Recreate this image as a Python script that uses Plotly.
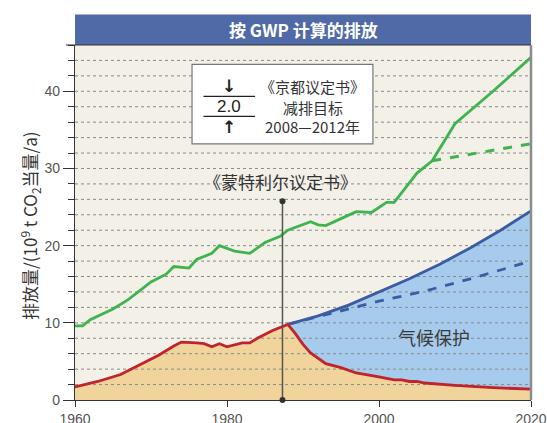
import plotly.graph_objects as go

# ---- data (10^9 t CO2-equivalent per year) ----
total_years = [1960, 1961, 1962, 1965, 1967, 1970, 1972, 1973, 1975, 1976, 1978, 1979,
               1981, 1983, 1985, 1987, 1988, 1990, 1991, 1992, 1993, 1995, 1997,
               1999, 2000, 2001, 2002, 2003, 2005, 2007, 2010, 2015, 2020]
total_vals = [9.6, 9.6, 10.4, 11.8, 13.0, 15.3, 16.3, 17.3, 17.1, 18.2, 19.0, 20.0,
              19.3, 19.0, 20.4, 21.2, 22.0, 22.7, 23.1, 22.7, 22.6, 23.5, 24.4,
              24.3, 25.0, 25.6, 25.6, 26.9, 29.4, 31.0, 35.8, 40.0, 44.4]

total_proj_years = [2007, 2020]
total_proj_vals = [31.0, 33.2]

ods_years = [1960, 1963, 1966, 1969, 1971, 1973, 1974, 1976, 1977, 1978, 1979, 1980,
             1982, 1983, 1984, 1986, 1987, 1988, 1989, 1990, 1991, 1993, 1995, 1997,
             2000, 2002, 2003, 2004, 2005, 2006, 2010, 2015, 2020]
ods_vals = [1.7, 2.4, 3.3, 4.8, 5.8, 7.0, 7.5, 7.4, 7.3, 6.9, 7.3, 6.9,
            7.4, 7.4, 8.0, 9.0, 9.4, 9.8, 8.6, 7.2, 6.1, 4.7, 4.2, 3.5,
            3.0, 2.6, 2.6, 2.4, 2.4, 2.2, 1.9, 1.6, 1.4]

no_protocol_years = [1988, 1992, 1996, 2000, 2004, 2008, 2012, 2016, 2020]
no_protocol_vals = [9.8, 10.9, 12.3, 14.0, 15.7, 17.6, 19.7, 22.0, 24.5]

no_protocol_low_years = [1988, 1995, 2000, 2006, 2012, 2020]
no_protocol_low_vals = [9.8, 11.6, 12.8, 14.1, 15.7, 18.0]

montreal_x = 1987.3
montreal_top = 25.75

x_ticks = [1960, 1980, 2000, 2020]
y_ticks = [0, 10, 20, 30, 40]
grid_levels = list(range(2, 46, 2))

# ---- colours ----
GREEN = "#3fb34f"
RED = "#c1232c"
BLUE = "#3b5ba3"
BLUE_FILL = "#a7cbec"
TAN_FILL = "#f0d49b"
BG = "#f3f0e8"
BAR = "#4f6aa6"
CJK = "Noto Sans CJK SC"

fig = go.Figure()

# filled areas
fig.add_trace(go.Scatter(x=ods_years, y=ods_vals, fill="tozeroy", fillcolor=TAN_FILL,
                         mode="lines", line=dict(width=0), hoverinfo="skip"))
ods_after = [(x, y) for x, y in zip(ods_years, ods_vals) if x >= no_protocol_years[0]]
fig.add_trace(go.Scatter(x=[p[0] for p in ods_after], y=[p[1] for p in ods_after],
                         mode="lines", line=dict(width=0), hoverinfo="skip"))
fig.add_trace(go.Scatter(x=no_protocol_years, y=no_protocol_vals, fill="tonexty",
                         fillcolor=BLUE_FILL, mode="lines", line=dict(width=0),
                         hoverinfo="skip"))

# dotted grid drawn over the fills
gx, gy = [], []
for g in grid_levels:
    gx += [x_ticks[0], x_ticks[-1], None]
    gy += [g, g, None]
fig.add_trace(go.Scatter(x=gx, y=gy, mode="lines",
                         line=dict(color="#8a8a8a", width=1, dash="dot"),
                         hoverinfo="skip"))

# series lines
fig.add_trace(go.Scatter(x=total_proj_years, y=total_proj_vals, mode="lines",
                         line=dict(color=GREEN, width=3, dash="dash")))
fig.add_trace(go.Scatter(x=total_years, y=total_vals, mode="lines",
                         line=dict(color=GREEN, width=2.8)))
fig.add_trace(go.Scatter(x=no_protocol_low_years, y=no_protocol_low_vals, mode="lines",
                         line=dict(color=BLUE, width=2.8, dash="dash")))
fig.add_trace(go.Scatter(x=no_protocol_years, y=no_protocol_vals, mode="lines",
                         line=dict(color=BLUE, width=2.8)))
fig.add_trace(go.Scatter(x=ods_years, y=ods_vals, mode="lines",
                         line=dict(color=RED, width=2.8)))

# Montreal Protocol marker line
fig.add_trace(go.Scatter(x=[montreal_x, montreal_x], y=[0, montreal_top],
                         mode="lines+markers", line=dict(color="#555555", width=1.5),
                         marker=dict(color="#333333", size=6), cliponaxis=False))

shapes = [
    # title bar
    dict(type="rect", xref="paper", yref="paper", x0=0, x1=1, y0=1, y1=1.086,
         fillcolor=BAR, line=dict(width=0), layer="above"),
    dict(type="line", xref="paper", yref="paper", x0=-0.02, x1=1, y0=1, y1=1,
         line=dict(color="#333333", width=1.2), layer="above"),
    # right frame edge
    dict(type="line", xref="paper", yref="paper", x0=1, x1=1, y0=0, y1=1,
         line=dict(color="#8c8c8c", width=2.5), layer="above"),
    # Kyoto box
    dict(type="rect", xref="x", yref="y", x0=1975.4, x1=1999.2, y0=33.2, y1=43.5,
         fillcolor="white", line=dict(color="#777777", width=1.2), layer="above"),
    dict(type="line", xref="x", yref="y", x0=1976.9, x1=1983.7, y0=39.35, y1=39.35,
         line=dict(color="#222222", width=1.3), layer="above"),
    dict(type="line", xref="x", yref="y", x0=1976.9, x1=1983.7, y0=36.75, y1=36.75,
         line=dict(color="#222222", width=1.3), layer="above"),
]

ann = [
    dict(text="<b>按 GWP 计算的排放</b>", xref="paper", yref="paper", x=0.5, y=1.043,
         showarrow=False, font=dict(family=CJK, size=17, color="white"),
         xanchor="center", yanchor="middle"),
    dict(text="排放量/(10<sup>9</sup> t CO<sub>2</sub>当量/a)", xref="paper",
         yref="paper", x=-0.099, y=0.49, textangle=-90, showarrow=False,
         font=dict(family=CJK, size=17, color="#333333"),
         xanchor="center", yanchor="middle"),
    dict(text="《蒙特利尔议定书》", x=1987.1, y=28.35, showarrow=False,
         font=dict(family=CJK, size=17, color="#333333")),
    dict(text="气候保护", x=2007.3, y=8.2, showarrow=False,
         font=dict(family=CJK, size=18, color="#3a3a3a")),
    dict(text="<b>↓</b>", x=1980.3, y=40.7, showarrow=False,
         font=dict(family="DejaVu Sans", size=17, color="#222222")),
    dict(text="2.0", x=1980.3, y=38.05, showarrow=False,
         font=dict(family="Liberation Sans", size=17, color="#222222")),
    dict(text="<b>↑</b>", x=1980.3, y=35.4, showarrow=False,
         font=dict(family="DejaVu Sans", size=17, color="#222222")),
    dict(text="《京都议定书》", x=1991.3, y=40.65, showarrow=False,
         font=dict(family=CJK, size=15, color="#333333")),
    dict(text="减排目标", x=1991.3, y=37.95, showarrow=False,
         font=dict(family=CJK, size=15, color="#333333")),
    dict(text="2008—2012年", x=1991.3, y=35.4, showarrow=False,
         font=dict(family=CJK, size=15, color="#333333")),
]

fig.update_layout(
    width=547, height=423,
    margin=dict(l=75, r=16, t=45, b=23),
    paper_bgcolor="white", plot_bgcolor=BG,
    showlegend=False,
    shapes=shapes, annotations=ann,
    xaxis=dict(range=[x_ticks[0], x_ticks[-1]], tickvals=x_ticks, showgrid=False,
               zeroline=False, showline=True, linecolor="#333333", linewidth=1.2,
               ticks="outside", ticklen=6, tickcolor="#333333", automargin=False,
               tickfont=dict(family="Liberation Sans", size=14, color="#555555")),
    yaxis=dict(range=[0, 46], tickvals=y_ticks, showgrid=False, zeroline=False,
               showline=True, linecolor="#333333", linewidth=1.2,
               ticks="outside", ticklen=11, tickcolor="#333333", automargin=False,
               minor=dict(dtick=2, ticks="outside", ticklen=6, tickcolor="#333333"),
               tickfont=dict(family="Liberation Sans", size=14, color="#555555")),
)

fig.write_html("out.html")
